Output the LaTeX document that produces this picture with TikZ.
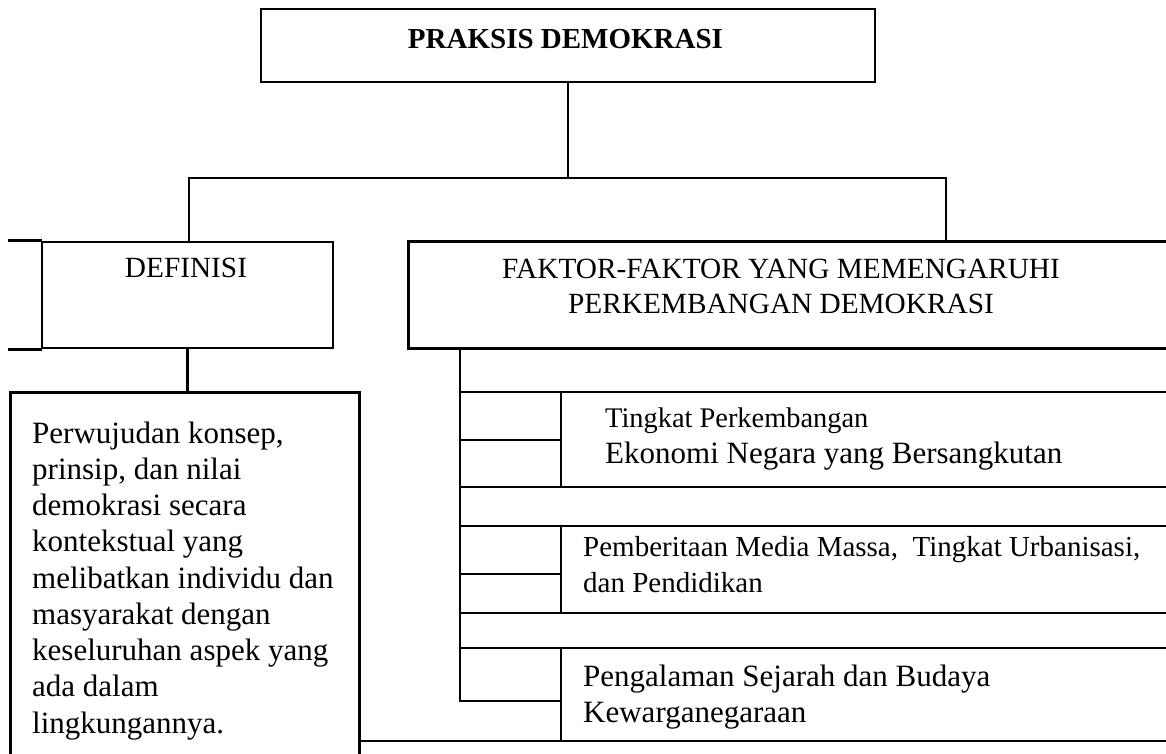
\documentclass[tikz,border=0pt]{standalone}
\usepackage{fontspec}
\setmainfont{Liberation Serif}
\begin{document}
\begin{tikzpicture}[x=1pt,y=-1pt,
  ln/.style={line width=2.7pt, line cap=rect},
  box/.style={draw, line width=2.7pt, rectangle, inner sep=0pt},
  area/.style={draw=none, rectangle, inner sep=0pt},
  lbl/.style={inner sep=0pt, anchor=base west},
  ctr/.style={inner sep=0pt, anchor=base},
  big/.style={font=\fontsize{31}{36.25}\selectfont},
  mid/.style={font=\fontsize{28.4}{34}\selectfont},
  head/.style={font=\fontsize{29.3}{35}\selectfont},
]
\useasboundingbox (0,0) rectangle (1166,753);

% title box
\node[box, minimum width=614pt, minimum height=73pt] (title) at (568,45.5) {};
\node[ctr, font=\fontsize{29}{34}\selectfont\bfseries] (titletext) at (565.5,48) {PRAKSIS DEMOKRASI};

% definition header
\node[box, minimum width=291pt, minimum height=106pt] (defbox) at (187.5,295) {};
\node[ctr, head] (deftitle) at (186,277) {DEFINISI};
\draw[ln] (defbox.north west) -- ++(-31,0);
\draw[ln] (defbox.south west) -- ++(-31,0);

% definition body (open at the bottom)
\node[area, minimum width=348pt, minimum height=360pt] (defbody) at (185,573) {};
\draw[ln] (defbody.south west) -- (defbody.north west) -- (defbody.north east) -- (defbody.south east);
\node[lbl, big] (deftext) at (32,443) {\parbox[t]{320pt}{\raggedright
  Perwujudan konsep,\\
  prinsip, dan nilai\\
  demokrasi secara\\
  kontekstual yang\\
  melibatkan individu dan\\
  masyarakat dengan\\
  keseluruhan aspek yang\\
  ada dalam\\
  lingkungannya.}};

% factors header (open at the right)
\node[area, minimum width=757pt, minimum height=106pt] (fakbox) at (787.5,295) {};
\draw[ln] (fakbox.north east) -- (fakbox.north west) -- (fakbox.south west) -- (fakbox.south east);
\node[ctr, head] (fak1) at (781,278) {FAKTOR-FAKTOR YANG MEMENGARUHI};
\node[ctr, head] (fak2) at (781,313) {PERKEMBANGAN DEMOKRASI};

% tree connectors
\coordinate (jn) at (568,178);
\coordinate (jl) at (189,178);
\coordinate (jr) at (946,178);
\draw[ln] (title.south) -- (jn);
\draw[ln] (jl) -- (jr);
\draw[ln] (jl) -- (jl |- defbox.north);
\draw[ln] (jr) -- (jr |- fakbox.north);
\draw[ln] (defbox.south) -- (defbox.south |- defbody.north);

% factor rows
\coordinate (spine) at (460,348);
\draw[ln] (spine) -- (460,701);
\foreach \yy in {392,487,526,613,648}
  \draw[ln] (460,\yy) -- (1166,\yy);
\draw[ln] (561,392) -- (561,487);
\draw[ln] (561,526) -- (561,613);
\draw[ln] (561,648) -- (561,741);
\draw[ln] (460,440) -- (561,440);
\draw[ln] (460,574) -- (561,574);
\draw[ln] (460,701) -- (561,701);
\draw[ln] (defbody.east |- 0,741) -- (1166,741);

\node[lbl, mid] (f1a) at (605,427) {Tingkat Perkembangan};
\node[lbl, big] (f1b) at (605,463) {Ekonomi Negara yang Bersangkutan};
\node[lbl, font=\fontsize{29}{34}\selectfont] (f2a) at (583,556) {Pemberitaan Media Massa,\ \ Tingkat Urbanisasi,};
\node[lbl, font=\fontsize{29}{34}\selectfont] (f2b) at (583,592) {dan Pendidikan};
\node[lbl, big] (f3a) at (583,686) {Pengalaman Sejarah dan Budaya};
\node[lbl, big] (f3b) at (583,722) {Kewarganegaraan};
\end{tikzpicture}
\end{document}
